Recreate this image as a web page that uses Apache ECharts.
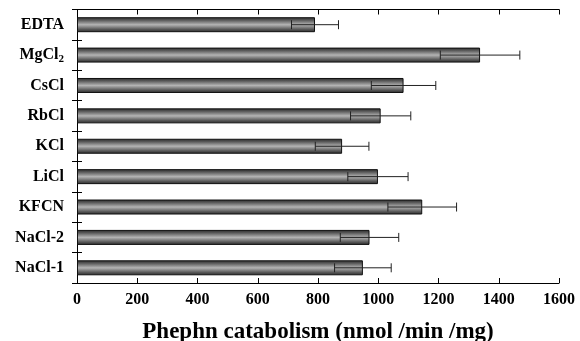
<!DOCTYPE html>
<html><head><meta charset="utf-8">
<script src="https://cdn.jsdelivr.net/npm/echarts@6/dist/echarts.min.js"></script>
<style>html,body{margin:0;padding:0;background:#fff}#c{width:580px;height:341px}</style>
</head><body><div id="c"></div>
<script>
const categories = ['EDTA','MgCl2','CsCl','RbCl','KCl','LiCl','KFCN','NaCl-2','NaCl-1'];
const values = [790, 1338, 1084, 1008, 880, 999, 1146, 971, 949];
const errors = [78, 132, 107, 100, 89, 100, 114, 97, 94];
const xTicks = [0,200,400,600,800,1000,1200,1400,1600];
const xTitle = 'Phephn catabolism (nmol /min /mg)';

const font = 'Liberation Serif';
const chart = echarts.init(document.getElementById('c'), null, {renderer:'canvas'});
const grad = new echarts.graphic.LinearGradient(0,0,0,1,[
  {offset:0,color:'#2a2a2a'},{offset:0.18,color:'#555'},{offset:0.5,color:'#b4b4b4'},
  {offset:0.82,color:'#555'},{offset:1,color:'#2a2a2a'}]);
const axisCommon = {
  axisLine:{show:true,lineStyle:{color:'#000',width:1}},
  axisTick:{show:true,inside:true,length:5,lineStyle:{color:'#000'}},
  splitLine:{show:false}
};
chart.setOption({
  animation:false,
  grid:{left:77,right:21,top:9.5,bottom:58,containLabel:false,outerBoundsMode:'none'},
  xAxis:[
    Object.assign({type:'value',position:'bottom',min:0,max:1600,interval:200,
      axisLabel:{fontFamily:font,fontWeight:'bold',fontSize:16,color:'#000',margin:9,
        formatter:v=>xTicks.includes(v)?String(v):''},
      name:xTitle,nameLocation:'middle',nameGap:38,
      nameTextStyle:{fontFamily:font,fontWeight:'bold',fontSize:23,color:'#000'}},axisCommon),
    Object.assign({type:'value',position:'top',min:0,max:1600,interval:200,
      axisLabel:{show:false}},axisCommon)
  ],
  yAxis:[
    Object.assign({type:'category',data:categories,inverse:true,position:'left',
      axisLabel:{fontFamily:font,fontWeight:'bold',fontSize:16,color:'#000',margin:13,
        formatter:v=>v==='MgCl2'?'MgCl{sub|2}':v,
        rich:{sub:{fontFamily:font,fontWeight:'bold',fontSize:11,color:'#000',padding:[9,0,0,0]}}}},axisCommon),
    Object.assign({type:'category',data:categories,inverse:true,position:'right',
      axisLabel:{show:false}},axisCommon)
  ],
  series:[
    {type:'bar',data:values,barWidth:15,itemStyle:{color:grad,borderColor:'#111',borderWidth:1},z:2},
    {type:'custom',z:3,
      data:values.map((v,i)=>[i,v,errors[i]]),
      encode:{x:1,y:0},
      renderItem:function(params,api){
        const i=api.value(0), v=api.value(1), e=api.value(2);
        const lo=api.coord([v-e,i]), hi=api.coord([v+e,i]);
        const h=4.5;
        const st={stroke:'#222',lineWidth:1};
        return {type:'group',children:[
          {type:'line',shape:{x1:lo[0],y1:lo[1],x2:hi[0],y2:hi[1]},style:st},
          {type:'line',shape:{x1:lo[0],y1:lo[1]-h,x2:lo[0],y2:lo[1]+h},style:st},
          {type:'line',shape:{x1:hi[0],y1:hi[1]-h,x2:hi[0],y2:hi[1]+h},style:st}
        ]};
      }}
  ]
});
</script></body></html>
